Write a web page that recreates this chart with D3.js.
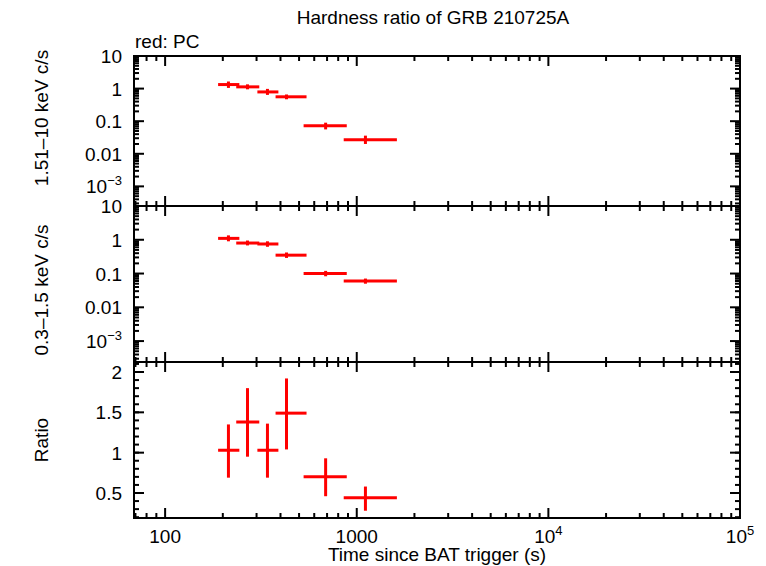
<!DOCTYPE html>
<html><head><meta charset="utf-8">
<script src="https://cdn.jsdelivr.net/npm/d3@7"></script>
<style>body{margin:0;background:#fff}text{font-family:"Liberation Sans",Arial,sans-serif}</style>
</head><body><svg id="c" width="766" height="566"></svg>
<script>
// time bins (s)
var tMid = [214, 269, 342, 430, 688, 1110];
var tLo  = [189, 235, 303, 377, 528, 855];
var tHi  = [244, 310, 390, 547, 887, 1620];
// 1.5-10 keV rate
var hard   = [1.33, 1.13, 0.79, 0.56, 0.072, 0.027];
var hardLo = [1.05, 0.95, 0.64, 0.47, 0.056, 0.020];
var hardHi = [1.65, 1.35, 0.98, 0.66, 0.090, 0.036];
// 0.3-1.5 keV rate
var soft   = [1.10, 0.80, 0.75, 0.35, 0.10, 0.060];
var softLo = [0.90, 0.68, 0.62, 0.29, 0.083, 0.050];
var softHi = [1.35, 0.95, 0.90, 0.42, 0.12, 0.071];
// ratio
var ratio   = [1.03, 1.38, 1.03, 1.49, 0.70, 0.44];
var ratioLo = [0.69, 0.95, 0.69, 1.04, 0.46, 0.28];
var ratioHi = [1.35, 1.80, 1.36, 1.92, 0.93, 0.58];

var svg = d3.select("#c");
var L = 134, R = 740, FS = 19;
var x = d3.scaleLog().domain([68.8, 1e5]).range([L, R]);

var panels = [
  {top:56, bot:206, y:d3.scaleLog().domain([2.5e-4, 10]).range([206, 56]), v:hard, lo:hardLo, hi:hardHi, lab:"1.51\u201310 keV c/s", ly:118},
  {top:206, bot:362, y:d3.scaleLog().domain([2.4e-4, 10]).range([362, 206]), v:soft, lo:softLo, hi:softHi, lab:"0.3\u20131.5 keV c/s", ly:290},
  {top:362, bot:518, y:d3.scaleLinear().domain([0.19, 2.124]).range([518, 362]), v:ratio, lo:ratioLo, hi:ratioHi, lab:"Ratio", ly:440}
];

var xMajor = [100, 1000, 1e4, 1e5];
var xMinor = [];
[10, 100, 1000, 1e4].forEach(function(d){ for (var k=2;k<10;k++){ var t=d*k; if (t>=68.8 && t<=1e5) xMinor.push(t);} });

panels.forEach(function(p, i) {
  var g = svg.append("g");
  xMajor.forEach(function(t){
    g.append("line").attr("x1",x(t)).attr("x2",x(t)).attr("y1",p.bot).attr("y2",p.bot-10).attr("stroke","#000").attr("stroke-width",2);
    g.append("line").attr("x1",x(t)).attr("x2",x(t)).attr("y1",p.top).attr("y2",p.top+10).attr("stroke","#000").attr("stroke-width",2);
  });
  xMinor.forEach(function(t){
    g.append("line").attr("x1",x(t)).attr("x2",x(t)).attr("y1",p.bot).attr("y2",p.bot-5).attr("stroke","#000").attr("stroke-width",2);
    g.append("line").attr("x1",x(t)).attr("x2",x(t)).attr("y1",p.top).attr("y2",p.top+5).attr("stroke","#000").attr("stroke-width",2);
  });
  var major, minor = [];
  if (i < 2) {
    major = [1e-3, 0.01, 0.1, 1, 10];
    [1e-4, 1e-3, 0.01, 0.1, 1].forEach(function(d){ for (var k=2;k<10;k++){ var t=d*k; if (t>=p.y.domain()[0]) minor.push(t);} });
  } else {
    major = [0.5, 1, 1.5, 2];
    for (var v=0.2; v<2.12; v+=0.1) minor.push(+v.toFixed(1));
  }
  minor.forEach(function(t){
    g.append("line").attr("x1",L).attr("x2",L+5).attr("y1",p.y(t)).attr("y2",p.y(t)).attr("stroke","#000").attr("stroke-width",2);
    g.append("line").attr("x1",R).attr("x2",R-5).attr("y1",p.y(t)).attr("y2",p.y(t)).attr("stroke","#000").attr("stroke-width",2);
  });
  major.forEach(function(t){
    g.append("line").attr("x1",L).attr("x2",L+10).attr("y1",p.y(t)).attr("y2",p.y(t)).attr("stroke","#000").attr("stroke-width",2);
    g.append("line").attr("x1",R).attr("x2",R-10).attr("y1",p.y(t)).attr("y2",p.y(t)).attr("stroke","#000").attr("stroke-width",2);
    var txt = g.append("text").attr("x",L-12).attr("y",p.y(t)+7).attr("text-anchor","end").attr("font-size",FS);
    if (i<2 && t==1e-3) { txt.text("10"); txt.append("tspan").attr("dy",-8).attr("font-size",13).text("\u22123"); }
    else txt.text(String(+t.toFixed(3)));
  });
  g.append("rect").attr("x",L).attr("y",p.top).attr("width",R-L).attr("height",p.bot-p.top).attr("fill","none").attr("stroke","#000").attr("stroke-width",2);
  p.v.forEach(function(v, j){
    g.append("line").attr("x1",x(tLo[j])).attr("x2",x(tHi[j])).attr("y1",p.y(v)).attr("y2",p.y(v)).attr("stroke","#f00").attr("stroke-width",3);
    g.append("line").attr("x1",x(tMid[j])).attr("x2",x(tMid[j])).attr("y1",p.y(p.lo[j])).attr("y2",p.y(p.hi[j])).attr("stroke","#f00").attr("stroke-width",3);
  });
  svg.append("text").attr("transform","translate(48,"+p.ly+") rotate(-90)").attr("text-anchor","middle").attr("font-size",FS).text(p.lab);
});

xMajor.forEach(function(t){
  var txt = svg.append("text").attr("x",x(t)).attr("y",543).attr("text-anchor","middle").attr("font-size",FS);
  if (t>=1e4) { txt.text("10"); txt.append("tspan").attr("dy",-8).attr("font-size",13).text(String(Math.round(Math.log10(t)))); }
  else txt.text(String(t));
});
svg.append("text").attr("x",437).attr("y",561).attr("text-anchor","middle").attr("font-size",FS).text("Time since BAT trigger (s)");
svg.append("text").attr("x",433).attr("y",24).attr("text-anchor","middle").attr("font-size",FS).text("Hardness ratio of GRB 210725A");
svg.append("text").attr("x",135).attr("y",48).attr("font-size",FS).text("red: PC");
</script></body></html>
